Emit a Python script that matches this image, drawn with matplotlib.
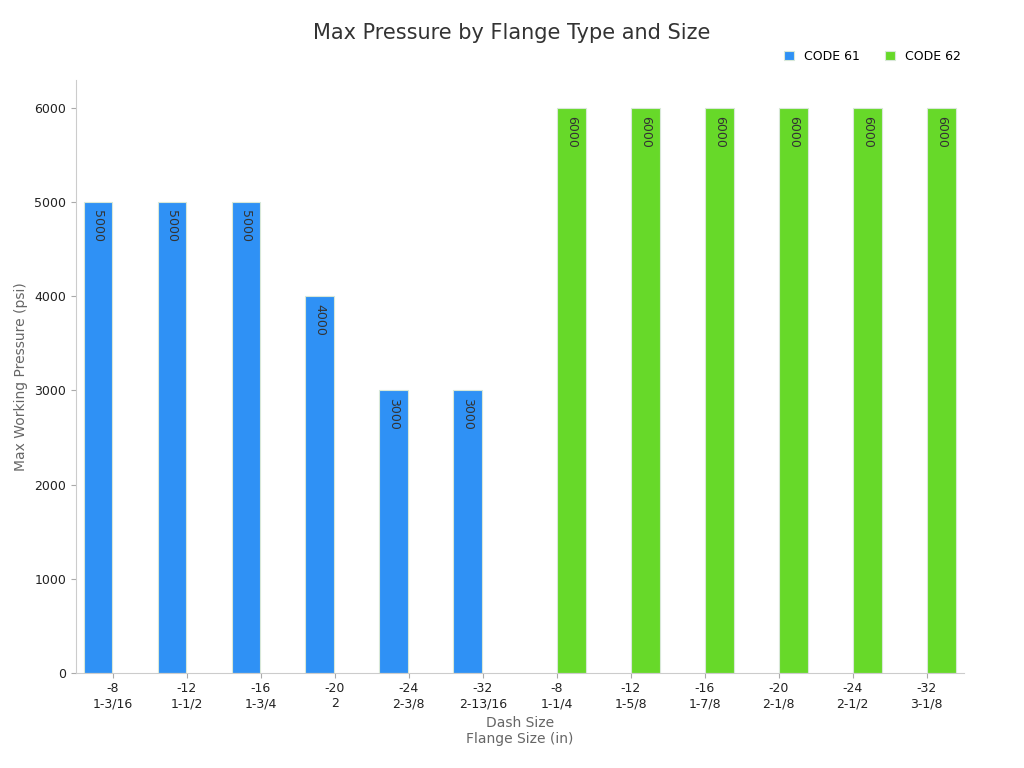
import matplotlib.pyplot as plt
import numpy as np

dash_sizes = ["-8", "-12", "-16", "-20", "-24", "-32", "-8", "-12", "-16", "-20", "-24", "-32"]
flange_sizes = ["1-3/16", "1-1/2", "1-3/4", "2", "2-3/8", "2-13/16",
                "1-1/4", "1-5/8", "1-7/8", "2-1/8", "2-1/2", "3-1/8"]
code61 = [5000, 5000, 5000, 4000, 3000, 3000, None, None, None, None, None, None]
code62 = [None, None, None, None, None, None, 6000, 6000, 6000, 6000, 6000, 6000]

BLUE = "#2f91f5"
GREEN = "#67d929"

fig = plt.figure(figsize=(10.24, 7.68), dpi=100)
ax = fig.add_axes([0.074, 0.124, 0.867, 0.772])

x = np.arange(len(dash_sizes))
w = 0.39
for vals, off, col, lab in [(code61, -0.2, BLUE, "CODE 61"), (code62, 0.2, GREEN, "CODE 62")]:
    xs = [xi + off for xi, v in zip(x, vals) if v is not None]
    vs = [v for v in vals if v is not None]
    ax.bar(xs, vs, width=w, color=col, edgecolor="#d8e8d8", linewidth=0.8, label=lab)
    for xi, v in zip(xs, vs):
        ax.text(xi, v - 80, f"{v}", rotation=-90, ha="center", va="top",
                fontsize=9, color="#333333")

ax.set_xlim(-0.5, len(x) - 0.5)
ax.set_ylim(0, 6300)
ax.set_yticks(range(0, 6001, 1000))
ax.set_xticks(x)
ax.set_xticklabels([f"{d}\n{f}" for d, f in zip(dash_sizes, flange_sizes)], fontsize=9, color="#222222")
ax.tick_params(axis="y", labelsize=9, labelcolor="#222222", color="#aaaaaa")
ax.tick_params(axis="x", color="#aaaaaa")
for s in ["top", "right"]:
    ax.spines[s].set_visible(False)
for s in ["left", "bottom"]:
    ax.spines[s].set_color("#cccccc")

ax.set_ylabel("Max Working Pressure (psi)", fontsize=10, color="#666666")
ax.set_xlabel("Dash Size\nFlange Size (in)", fontsize=10, color="#666666")
fig.suptitle("Max Pressure by Flange Type and Size", fontsize=15, color="#333333", y=0.97)
ax.legend(loc="lower right", bbox_to_anchor=(1.01, 1.01), ncol=2, frameon=False,
          fontsize=9, handlelength=0.8, handleheight=0.8, columnspacing=2.0)

fig.savefig("out.png", dpi=100)
